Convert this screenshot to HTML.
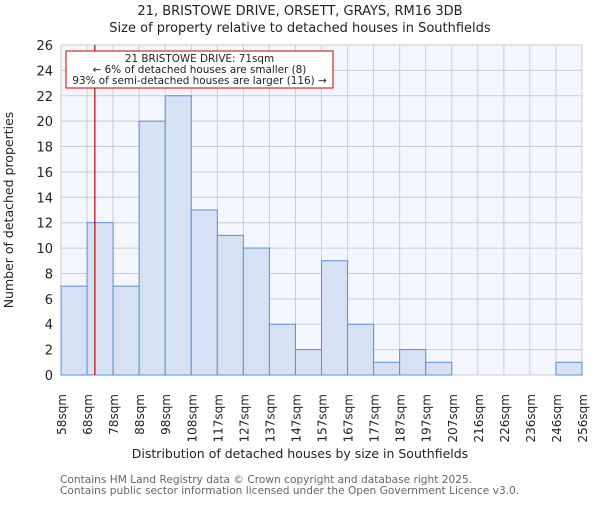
<!DOCTYPE html>
<html><head><meta charset="utf-8"><style>body{margin:0;background:#fff}svg{font-family:"DejaVu Sans","Liberation Sans",sans-serif}</style></head>
<body>
<svg id="c" width="600" height="500" xmlns="http://www.w3.org/2000/svg">
<text x="300" y="15" text-anchor="middle" font-size="13" fill="#222">21, BRISTOWE DRIVE, ORSETT, GRAYS, RM16 3DB</text>
<text x="300" y="32" text-anchor="middle" font-size="13" fill="#222">Size of property relative to detached houses in Southfields</text>
<g id="plot"></g>
<text x="300" y="458" text-anchor="middle" font-size="12.5" fill="#222">Distribution of detached houses by size in Southfields</text>
<text transform="translate(13,210) rotate(-90)" text-anchor="middle" font-size="12.5" fill="#222">Number of detached properties</text>
<text x="60" y="483" font-size="10.6" fill="#666">Contains HM Land Registry data © Crown copyright and database right 2025.</text>
<text x="60" y="494" font-size="10.6" fill="#666">Contains public sector information licensed under the Open Government Licence v3.0.</text>
</svg>
<script>
const categories=["58sqm","68sqm","78sqm","88sqm","98sqm","108sqm","117sqm","127sqm","137sqm","147sqm","157sqm","167sqm","177sqm","187sqm","197sqm","207sqm","216sqm","226sqm","236sqm","246sqm","256sqm"];
const counts=[7,12,7,20,22,13,11,10,4,2,9,4,1,2,1,0,0,0,0,1];
const yTicks=[0,2,4,6,8,10,12,14,16,18,20,22,24,26];
const markerValue=71;
const binEdges=[58,68,78,88,98,108,117,127,137,147,157,167,177,187,197,207,216,226,236,246,256];
const L=61,R=582,T=45,B=375,yMax=26;
const g=document.getElementById('plot');
const ns='http://www.w3.org/2000/svg';
const bw=(R-L)/counts.length;
const xi=i=>L+i*bw;
const y=v=>B-(v/yMax)*(B-T);
function mk(t,a){const e=document.createElementNS(ns,t);for(const k in a)e.setAttribute(k,a[k]);g.appendChild(e);return e;}
let bg=mk('rect',{x:L,y:T,width:R-L,height:B-T,fill:'#f3f6fd'});


yTicks.forEach(v=>{let l=mk('line',{x1:L,x2:R,y1:y(v),y2:y(v),stroke:'#ccc'});


let t=mk('text',{x:L-8,y:y(v)+5,'text-anchor':'end','font-size':13,fill:'#222'});t.textContent=v;

});
categories.forEach((c,i)=>{let l=mk('line',{x1:xi(i),x2:xi(i),y1:T,y2:B,stroke:'#ccc'});


let t=mk('text',{transform:`translate(${xi(i)+5},${B+19}) rotate(-90)`,'text-anchor':'end','font-size':12,fill:'#222'});t.textContent=c;

});
counts.forEach((v,i)=>{if(v<=0)return;let r=mk('rect',{x:xi(i),y:y(v),width:bw,height:B-y(v),fill:'#d6e2f4',stroke:'#5b8fd6','stroke-width':1});

});
let i0=binEdges.findIndex((e,k)=>markerValue>=e&&markerValue<binEdges[k+1]);
let mx=xi(i0)+bw*(markerValue-binEdges[i0])/(binEdges[i0+1]-binEdges[i0]);
let ml=mk('line',{x1:mx,x2:mx,y1:T,y2:B,stroke:'#cc0000','stroke-width':1.2});


let box=mk('rect',{x:66,y:51,width:267,height:37,fill:'#fff',stroke:'#cc0000','stroke-width':1});


["21 BRISTOWE DRIVE: 71sqm","← 6% of detached houses are smaller (8)","93% of semi-detached houses are larger (116) →"].forEach((s,k)=>{let t=mk('text',{x:199.5,y:62+k*11,'text-anchor':'middle','font-size':10.4,fill:'#222'});t.textContent=s;

});
</script>
</body></html>
